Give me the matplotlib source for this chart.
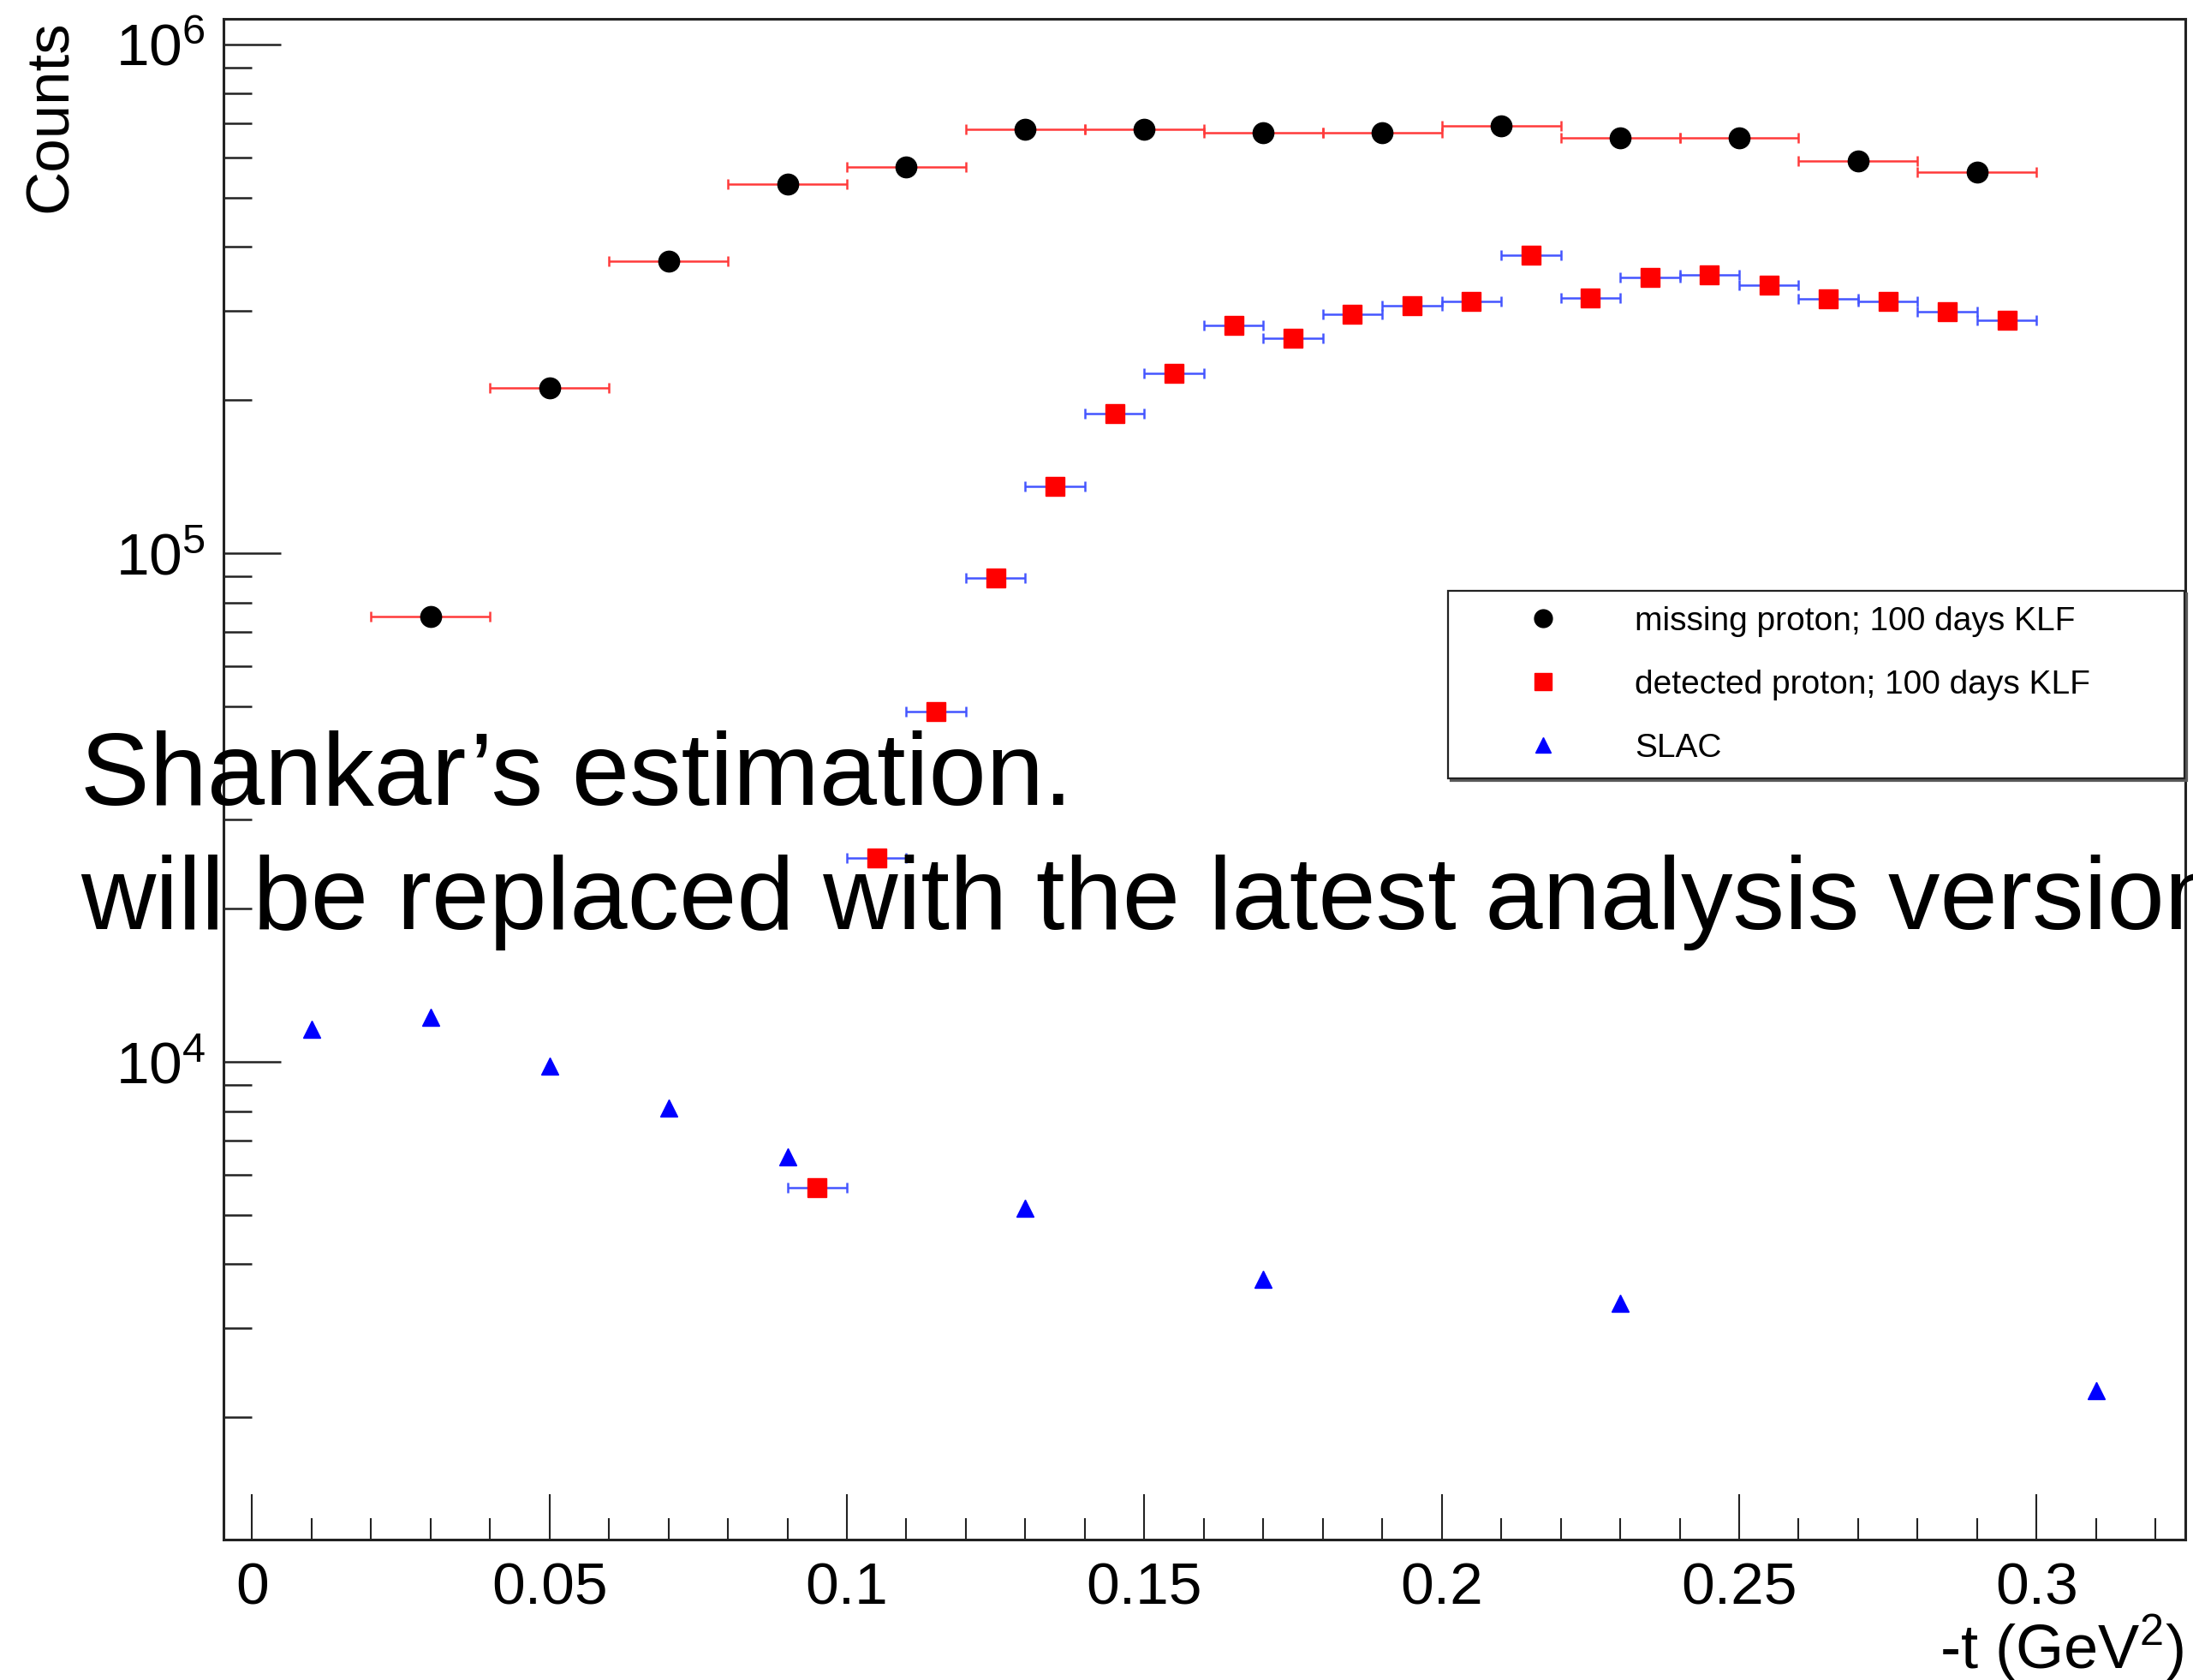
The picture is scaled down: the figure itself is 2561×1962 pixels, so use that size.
import matplotlib
matplotlib.use("Agg")
import matplotlib.pyplot as plt
import numpy as np
from matplotlib.ticker import FixedLocator, FuncFormatter, LogLocator, NullFormatter, MultipleLocator
from matplotlib.lines import Line2D

plt.rcParams['font.family'] = ['Liberation Sans', 'DejaVu Sans']
plt.rcParams['mathtext.fontset'] = 'custom'
plt.rcParams['mathtext.rm'] = 'Liberation Sans'
plt.rcParams['mathtext.it'] = 'Liberation Sans'

# ---- data ----
miss_t = [0.03, 0.05, 0.07, 0.09, 0.11, 0.13, 0.15, 0.17, 0.19, 0.21, 0.23, 0.25, 0.27, 0.29]
miss_counts = [75200, 211000, 375000, 531000, 574000, 680000, 680000, 671000, 671000,
               693000, 654000, 654000, 591000, 562000]
miss_halfwidth = 0.01

det_t = [0.095, 0.105, 0.115, 0.125, 0.135, 0.145, 0.155, 0.165, 0.175, 0.185, 0.195,
         0.205, 0.215, 0.225, 0.235, 0.245, 0.255, 0.265, 0.275, 0.285, 0.295]
det_counts = [5660, 25200, 48900, 89300, 135500, 188000, 226000, 280500, 265000, 295000, 306500,
              312000, 385000, 318000, 348000, 352000, 337000, 316000, 312000, 298500, 287500]
det_halfwidth = 0.005

slac_t = [0.01, 0.03, 0.05, 0.07, 0.09, 0.13, 0.17, 0.23, 0.31]
slac_counts = [11570, 12240, 9810, 8120, 6500, 5150, 3730, 3350, 2260]

legend_labels = ["missing proton; 100 days KLF", "detected proton; 100 days KLF", "SLAC"]
xtick_vals = [0, 0.05, 0.1, 0.15, 0.2, 0.25, 0.3]
xtick_labels = ["0", "0.05", "0.1", "0.15", "0.2", "0.25", "0.3"]
ytick_vals = [1e4, 1e5, 1e6]
ytick_labels = [r"$\mathregular{10^{4}}$", r"$\mathregular{10^{5}}$", r"$\mathregular{10^{6}}$"]

W, H = 2561, 1962
fig = plt.figure(figsize=(W / 100, H / 100), dpi=100)
ax = fig.add_axes([261 / W, 1 - 1798 / H, (2552 - 261) / W, (1798 - 22) / H])

ax.set_yscale('log')
ax.set_xlim(-0.0048, 0.325)
ax.set_ylim(1150, 1.123e6)

# missing proton
ax.errorbar(miss_t, miss_counts, xerr=miss_halfwidth, fmt='none', ecolor='#ff3a3a',
            elinewidth=1.8, capsize=4, capthick=1.8, zorder=2)
ax.plot(miss_t, miss_counts, linestyle='none', marker='o', markersize=17.5,
        color='black', zorder=4)
# detected proton
ax.errorbar(det_t, det_counts, xerr=det_halfwidth, fmt='none', ecolor='#4455ff',
            elinewidth=1.8, capsize=4, capthick=1.8, zorder=2)
ax.plot(det_t, det_counts, linestyle='none', marker='s', markersize=16.5,
        color='#ff0000', zorder=4)
# SLAC
ax.plot(slac_t, slac_counts, linestyle='none', marker='^', markersize=15,
        color='#0000ff', zorder=4)

# axes styling
for sp in ax.spines.values():
    sp.set_linewidth(2.2)
    sp.set_color('#222222')

ax.xaxis.set_major_locator(FixedLocator(xtick_vals))
ax.xaxis.set_major_formatter(FuncFormatter(lambda v, p: xtick_labels[xtick_vals.index(round(v, 2))] if round(v, 2) in xtick_vals else ""))
ax.xaxis.set_minor_locator(MultipleLocator(0.01))
ax.yaxis.set_major_locator(FixedLocator(ytick_vals))
ax.yaxis.set_major_formatter(FuncFormatter(lambda v, p: ytick_labels[ytick_vals.index(v)] if v in ytick_vals else ""))
ax.yaxis.set_minor_locator(LogLocator(base=10, subs=np.arange(2, 10), numticks=20))
ax.yaxis.set_minor_formatter(NullFormatter())

ax.tick_params(axis='x', which='major', direction='in', length=38, width=1.5,
               labelsize=50, pad=18, color='#222222')
ax.tick_params(axis='x', which='minor', direction='in', length=18, width=1.5, color='#222222')
ax.tick_params(axis='y', which='major', direction='in', length=48, width=1.8,
               labelsize=50, pad=15, color='#222222')
ax.tick_params(axis='y', which='minor', direction='in', length=24, width=1.8, color='#222222')
ax.tick_params(top=False, right=False, which='both')

# axis titles
fig.text(2550 / W, 1 - 1948 / H, r"-t (GeV$\mathregular{^{2}}$)", ha='right', va='baseline',
         fontsize=52)
fig.text(60 / W, 1 - 23 / H, "Counts", rotation=90, ha='center', va='top', fontsize=51)

# legend
handles = [
    Line2D([], [], linestyle='none', marker='o', markersize=15, color='black'),
    Line2D([], [], linestyle='none', marker='s', markersize=14, color='#ff0000'),
    Line2D([], [], linestyle='none', marker='^', markersize=13, color='#0000ff'),
]
leg = ax.legend(handles, legend_labels, loc='upper left',
                bbox_to_anchor=(1691 / W, 1 - 910 / H, 860 / W, 220 / H),
                bbox_transform=fig.transFigure, mode='expand', fontsize=28,
                frameon=True, fancybox=False, edgecolor='#222222', borderaxespad=0,
                borderpad=0.45, handlelength=4.8, handletextpad=0.35, labelspacing=0.98,
                numpoints=1, shadow={'color': '0.35', 'alpha': 1})
leg.get_frame().set_linewidth(1.6)

# overlay note (cut off at the right edge, as in the original slide)
fig.text(94 / W, 1 - 940 / H, "Shankar\u2019s estimation.", ha='left', va='baseline',
         fontsize=87, color='black')
fig.text(94 / W, 1 - 1085 / H, "will be replaced with the latest analysis version", ha='left',
         va='baseline', fontsize=87, color='black')

fig.savefig("out.png", dpi=100)
